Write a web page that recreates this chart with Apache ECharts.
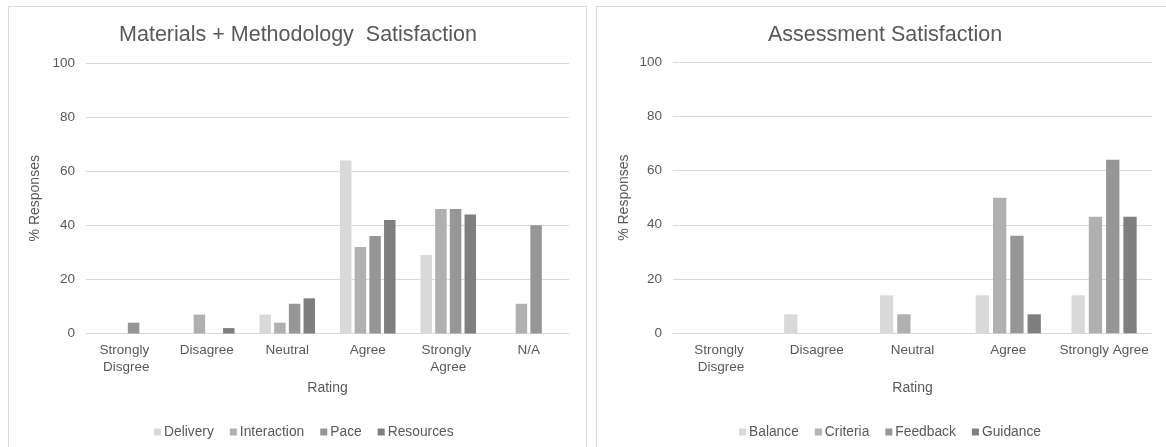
<!DOCTYPE html>
<html>
<head>
<meta charset="utf-8">
<script src="https://cdn.jsdelivr.net/npm/echarts@6/dist/echarts.min.js"></script>
<style>
html,body{margin:0;padding:0;background:#fff;}
#c{width:1166px;height:447px;}
</style>
</head>
<body>
<div id="c"></div>
<script>
// ---- data ----
const leftTitle = 'Materials + Methodology  Satisfaction';
const rightTitle = 'Assessment Satisfaction';
const leftCategories = ['Strongly Disgree', 'Disagree', 'Neutral', 'Agree', 'Strongly Agree', 'N/A'];
const rightCategories = ['Strongly Disgree', 'Disagree', 'Neutral', 'Agree', 'Strongly Agree'];
const leftSeriesNames = ['Delivery', 'Interaction', 'Pace', 'Resources'];
const rightSeriesNames = ['Balance', 'Criteria', 'Feedback', 'Guidance'];
const delivery    = [0, 0, 7, 64, 29, 0];
const interaction = [0, 7, 4, 32, 46, 11];
const pace        = [4, 0, 11, 36, 46, 40];
const resources   = [0, 2, 13, 42, 44, 0];
const balance  = [0, 7, 14, 14, 14];
const criteria = [0, 0, 7, 50, 43];
const feedback = [0, 0, 0, 36, 64];
const guidance = [0, 0, 0, 7, 43];
const yTicks = [0, 20, 40, 60, 80, 100];
const axisTitleX = 'Rating';
const axisTitleY = '% Responses';

// ---- styles ----
const colors = ['#d9d9d9', '#b0b0b0', '#969696', '#7f7f7f'];
const txt = '#595959';
const font = "'Liberation Sans', Arial, sans-serif";
const fs = 13.5;

const leftData = [delivery, interaction, pace, resources];
const rightData = [balance, criteria, feedback, guidance];

function xAxis(gi, cats, w) {
  return {
    type: 'category', gridIndex: gi, data: cats,
    axisLine: {show: true, lineStyle: {color: '#d9d9d9', width: 1}},
    axisTick: {show: false},
    axisLabel: {color: txt, fontFamily: font, fontSize: fs, margin: 9, lineHeight: 16.5,
      width: w, overflow: 'break', interval: 0},
    name: axisTitleX, nameLocation: 'middle', nameGap: 48,
    nameTextStyle: {color: txt, fontFamily: font, fontSize: fs + 0.5}
  };
}
function yAxis(gi, gap) {
  return {
    type: 'value', gridIndex: gi, min: yTicks[0], max: yTicks[yTicks.length - 1],
    interval: yTicks[1] - yTicks[0],
    axisLine: {show: false}, axisTick: {show: false},
    splitLine: {lineStyle: {color: '#d9d9d9', width: 1}},
    axisLabel: {color: txt, fontFamily: font, fontSize: fs, margin: 11},
    name: axisTitleY, nameLocation: 'middle', nameRotate: 90, nameGap: gap,
    nameTextStyle: {color: txt, fontFamily: font, fontSize: fs + 0.5}
  };
}

const series = [];
leftSeriesNames.forEach((n, i) => series.push({
  type: 'bar', name: n, xAxisIndex: 0, yAxisIndex: 0, data: leftData[i],
  itemStyle: {color: colors[i]}, barGap: '28%', barCategoryGap: '31%'
}));
rightSeriesNames.forEach((n, i) => series.push({
  type: 'bar', name: n, xAxisIndex: 1, yAxisIndex: 1, data: rightData[i],
  itemStyle: {color: colors[i]}, barGap: '30%', barCategoryGap: '32%'
}));

function legend(names, left, gap) {
  return {
    data: names, left: left, top: 420, icon: 'rect', itemWidth: 7, itemHeight: 7,
    itemGap: gap, selectedMode: false,
    textStyle: {color: txt, fontFamily: font, fontSize: fs + 0.3, padding: [0, 0, 0, -2]}
  };
}

const chart = echarts.init(document.getElementById('c'), null, {renderer: 'canvas'});
chart.setOption({
  animation: false,
  backgroundColor: '#fff',
  textStyle: {fontFamily: font},
  title: [
    {text: leftTitle, left: 293, top: 19, textAlign: 'center',
     textStyle: {color: txt, fontFamily: font, fontSize: 21.5, fontWeight: 'normal'}},
    {text: rightTitle, left: 880, top: 19, textAlign: 'center',
     textStyle: {color: txt, fontFamily: font, fontSize: 21.5, fontWeight: 'normal'}}
  ],
  grid: [
    {left: 86, right: 597, top: 63, bottom: 113.5},
    {left: 673, right: 14, top: 62, bottom: 113.7}
  ],
  xAxis: [xAxis(0, leftCategories, 78), xAxis(1, rightCategories, 95)],
  yAxis: [yAxis(0, 44), yAxis(1, 42)],
  legend: [legend(leftSeriesNames, 149, 16), legend(rightSeriesNames, 734, 16)],
  series: series,
  graphic: [
    {type: 'rect', shape: {x: 8.5, y: 6.5, width: 578, height: 460}, silent: true,
     style: {fill: 'none', stroke: '#d9d9d9', lineWidth: 1}},
    {type: 'rect', shape: {x: 596.5, y: 6.5, width: 600, height: 460}, silent: true,
     style: {fill: 'none', stroke: '#d9d9d9', lineWidth: 1}}
  ]
});
</script>
</body>
</html>
